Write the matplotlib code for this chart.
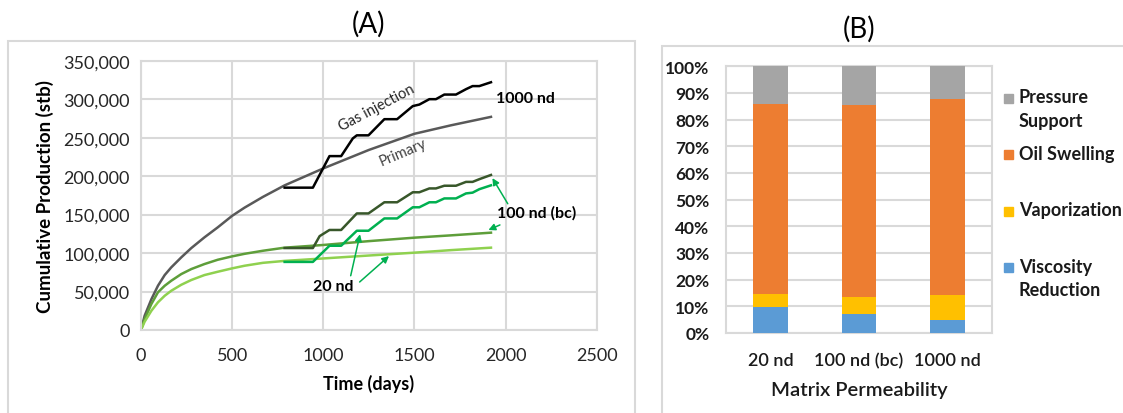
import numpy as np
import matplotlib
matplotlib.use("Agg")
from matplotlib import pyplot as plt
from matplotlib.patches import Rectangle
from matplotlib.ticker import FuncFormatter, PercentFormatter

plt.rcParams['font.family'] = ['Lato', 'DejaVu Sans']

# --- (A) cumulative production ---
days_primary = [0, 20, 57, 93, 130, 166, 221, 276, 348, 421, 500, 568, 669, 788,
                1000, 1250, 1500, 1700, 1920]
primary_1000 = [0, 18600, 40000, 57500, 71400, 81400, 94400, 106500, 120400, 133400,
                148400, 159000, 173000, 188000, 210000, 234000, 255000, 266000, 277000]
primary_100 = [0, 14300, 33800, 49000, 57500, 64000, 72700, 79200, 85700, 91300,
               95700, 99000, 103000, 107000, 110500, 115500, 120000, 123000, 126500]
primary_20 = [0, 10800, 25000, 36000, 44500, 51000, 58800, 65000, 71400, 75700,
              80100, 83500, 87300, 89800, 93000, 96800, 100500, 103800, 107000]

days_gas_1000 = [788, 943, 1034, 1098, 1162, 1184, 1248, 1335, 1405, 1491, 1527, 1582,
                 1618, 1664, 1728, 1783, 1819, 1856, 1920]
gas_1000 = [185000, 185000, 226000, 226000, 249000, 253000, 253000, 274000, 274000,
            291000, 293000, 300000, 300000, 306000, 306000, 313000, 317000, 317000, 322000]

days_gas_100 = [788, 943, 980, 1034, 1098, 1184, 1248, 1335, 1405, 1491, 1527, 1582,
                1618, 1664, 1728, 1783, 1819, 1856, 1920]
gas_100 = [106500, 106500, 122000, 130000, 130000, 151500, 151500, 166000, 166000,
           179000, 179000, 184000, 184000, 187500, 187500, 192500, 192500, 196000, 201500]

days_gas_20 = [788, 943, 1034, 1098, 1184, 1248, 1335, 1405, 1491, 1527, 1582, 1618,
               1664, 1728, 1783, 1819, 1856, 1920]
gas_20 = [88500, 88500, 109500, 109500, 129000, 129000, 145000, 145000, 159500, 159500,
          166000, 166000, 171000, 171000, 177500, 178500, 183000, 188000]

# --- (B) recovery mechanism split ---
perm_labels = ['20 nd', '100 nd (bc)', '1000 nd']
viscosity = [9.6, 7.3, 4.9]
vaporization = [5.0, 6.3, 9.4]
swelling = [71.2, 71.8, 73.6]
pressure = [14.2, 14.6, 12.1]

W, H = 1123, 414
fig = plt.figure(figsize=(W / 100, H / 100), dpi=100)
fig.patch.set_facecolor('white')

grid_c = '#D9D9D9'
txt_c = '#1a1a1a'

# panel frames
fig.add_artist(Rectangle((8 / W, -0.02), (635 - 8) / W, (H - 41.7) / H + 0.02,
                         transform=fig.transFigure, fill=False, ec=grid_c, lw=1.5))
fig.add_artist(Rectangle((662 / W, -0.02), 0.5, (H - 46.5) / H + 0.02,
                         transform=fig.transFigure, fill=False, ec=grid_c, lw=1.5))

# ---------------- panel A ----------------
ax = fig.add_axes([141 / W, 83 / H, 455.7 / W, 269.3 / H])
ax.plot(days_primary, primary_1000, color='#595959', lw=1.8)
ax.plot(days_primary, primary_100, color='#5E9E3A', lw=1.8)
ax.plot(days_primary, primary_20, color='#8FD14F', lw=1.8)
ax.plot(days_gas_1000, gas_1000, color='black', lw=1.8)
ax.plot(days_gas_100, gas_100, color='#38572A', lw=1.8)
ax.plot(days_gas_20, gas_20, color='#00B050', lw=1.8)

ax.set_xlim(0, 2500)
ax.set_ylim(0, 350000)
ax.set_xticks(np.arange(0, 2501, 500))
ax.set_yticks(np.arange(0, 350001, 50000))
ax.yaxis.set_major_formatter(FuncFormatter(lambda v, p: f'{int(v):,}'))
ax.grid(True, color=grid_c, lw=1.5)
ax.set_axisbelow(True)
for s in ax.spines.values():
    s.set_color(grid_c)
    s.set_linewidth(1.5)
ax.tick_params(axis='x', length=0, pad=12, labelsize=13, labelcolor='#262626')
ax.tick_params(axis='y', length=0, pad=8, labelsize=13, labelcolor='#262626')
ax.set_xlabel('Time (days)', fontsize=13, fontweight='bold', labelpad=8)
ax.set_ylabel('Cumulative Production (stb)', fontsize=13.5, fontweight='bold', labelpad=7)
ax.set_title('(A)', fontsize=20, pad=21)

ax.text(1295, 289000, 'Gas injection', rotation=28, fontsize=10.5,
        ha='center', va='center', color='#262626')
ax.text(1436, 231000, 'Primary', rotation=23, fontsize=10.5,
        ha='center', va='center', color='#404040')
ax.text(1949, 301000, '1000 nd', fontsize=11.5, fontweight='bold', va='center')
ax.text(1955, 153000, '100 nd (bc)', fontsize=11.5, fontweight='bold', va='center')
ax.text(945, 57000, '20 nd', fontsize=11.5, fontweight='bold', va='center')

arrow = dict(arrowstyle='-|>', color='#00B050', lw=1.1, mutation_scale=10)
ax.annotate('', xy=(1920, 200500), xytext=(2020, 161000), arrowprops=arrow)
ax.annotate('', xy=(1892, 128500), xytext=(1983, 138000), arrowprops=arrow)
ax.annotate('', xy=(1205, 128000), xytext=(1147, 67000), arrowprops=arrow)
ax.annotate('', xy=(1372, 98500), xytext=(1188, 60000), arrowprops=arrow)

# ---------------- panel B ----------------
bx = fig.add_axes([726 / W, 80 / H, 266 / W, 266.7 / H])
series = [('Viscosity\nReduction', viscosity, '#5B9BD5'),
          ('Vaporization', vaporization, '#FFC000'),
          ('Oil Swelling', swelling, '#ED7D31'),
          ('Pressure\nSupport', pressure, '#A5A5A5')]
xpos = np.arange(len(perm_labels))
bottom = np.zeros(len(perm_labels))
for name, vals, col in series:
    bx.bar(xpos, vals, 0.39, bottom=bottom, color=col, zorder=3)
    bottom += np.array(vals)

bx.set_xlim(-0.5, 2.5)
bx.set_ylim(0, 100)
bx.set_yticks(np.arange(0, 101, 10))
bx.yaxis.set_major_formatter(PercentFormatter(decimals=0))
bx.set_xticks(xpos)
bx.set_xticklabels(perm_labels)
bx.grid(True, axis='y', color=grid_c, lw=1.5)
bx.set_axisbelow(True)
for s in bx.spines.values():
    s.set_color(grid_c)
    s.set_linewidth(1.5)
bx.tick_params(axis='y', length=0, pad=12, labelsize=12.5, labelcolor=txt_c)
for t in bx.get_yticklabels():
    t.set_fontweight('bold')
bx.tick_params(axis='x', length=0, pad=14, labelsize=13, labelcolor=txt_c)
for t in bx.get_xticklabels():
    t.set_fontweight('semibold')
bx.set_xlabel('Matrix Permeability', fontsize=14.5, fontweight='semibold',
              labelpad=9, color=txt_c)
bx.set_title('(B)', fontsize=20, pad=21)

# legend, top entry first
for i, (name, vals, col) in enumerate(series[::-1]):
    yc = 1 - (99.3 + 56.4 * i) / H
    fig.add_artist(Rectangle((1004 / W, yc - 4.5 / H), 9 / W, 9 / H,
                             transform=fig.transFigure, color=col))
    fig.text(1019 / W, yc + 10 / H, name, fontsize=13, fontweight='bold',
             va='top', ha='left', linespacing=1.45, color=txt_c)

fig.savefig('out.png', dpi=100, facecolor='white')
